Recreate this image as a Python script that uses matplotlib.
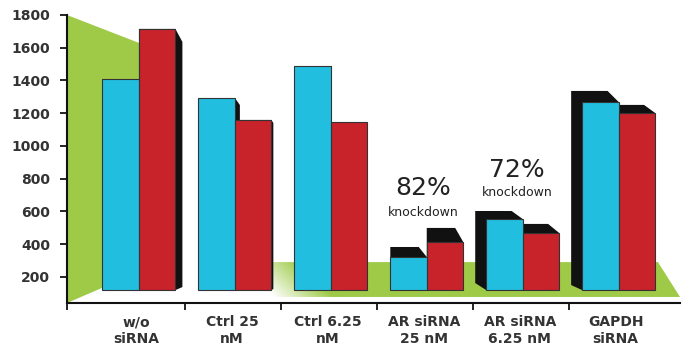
import numpy as np
import matplotlib
matplotlib.use("Agg")
import matplotlib.pyplot as plt
from matplotlib.patches import Polygon

# ---- data ----
categories = ["w/o\nsiRNA", "Ctrl 25\nnM", "Ctrl 6.25\nnM",
              "AR siRNA\n25 nM", "AR siRNA\n6.25 nM", "GAPDH\nsiRNA"]
blue_values = [1409, 1293, 1489, 322, 554, 1269]
red_values = [1715, 1159, 1147, 414, 469, 1202]
y_ticks = [200, 400, 600, 800, 1000, 1200, 1400, 1600, 1800]
pct_groups = [3, 4]
pct_labels = ["82%", "72%"]
pct_sub = ["knockdown", "knockdown"]

# ---- style ----
BLUE = "#22bee0"
RED = "#c8222a"
GREEN = "#9eca48"
DARK = "#111111"
base = 120
bar_w = 0.38
# pseudo-3D depth offsets in pixels: (dx_left, dx_right, dy_top, dy_bottom)
blue_depth = [(7, 7, 13, -3), (5, 5, 7, -2), (1, 1, 0, 0),
              (0, -8, -10, -4), (-11, -11, -8, -7), (-11, -11, -11, -5)]
red_depth = [(7, 7, 13, -3), (2, 2, 3, -1), (0, 0, 0, 0),
             (0, -8, -14, -4), (-11, -11, -9, -7), (-11, -11, -8, -5)]

fig = plt.figure(figsize=(6.82, 3.48), dpi=100)
ax = fig.add_axes([67 / 682, 45 / 348, 613 / 682, 288 / 348])
xlim = (-0.75, 5.64)
ylim = (41, 1800)
ax.set_xlim(*xlim)
ax.set_ylim(*ylim)

# px -> data unit scales
ppx_x = 613 / (xlim[1] - xlim[0])
ppx_y = 288 / (ylim[1] - ylim[0])

# ---- wall and floor ----
wall = Polygon([(0, 1), (0.155, 0.872), (0.155, 0.142), (0, 0)],
               closed=True, transform=ax.transAxes, facecolor=GREEN,
               edgecolor="none", zorder=0.5)
ax.add_patch(wall)
floor = Polygon([(0, 0.021), (0.155, 0.142), (0.964, 0.142), (1.0, 0.021)],
                closed=True, transform=ax.transAxes, facecolor="none",
                edgecolor="none", zorder=0.4)
ax.add_patch(floor)
nu, nv = 400, 60
ext_top = 0.16
u = np.linspace(0, 1, nu)[None, :]
v = np.linspace(ext_top, 0, nv)[:, None]
px = 67 + 613 * u
t = np.clip((px - 255) / 60 + (v - 0.021) / 0.121 * 0.6 - 0.3, 0, 1)
g = np.array(matplotlib.colors.to_rgb(GREEN))
img = (1 - t)[..., None] * np.ones(3) + t[..., None] * g
im = ax.imshow(img, extent=[0, 1, 0, ext_top], transform=ax.transAxes,
               aspect="auto", zorder=0.45, interpolation="bilinear")
im.set_clip_path(floor)
ax.set_xlim(*xlim)
ax.set_ylim(*ylim)


def hull(points):
    pts = sorted(set(points))
    def cross(o, a, b):
        return (a[0] - o[0]) * (b[1] - o[1]) - (a[1] - o[1]) * (b[0] - o[0])
    lower, upper = [], []
    for p in pts:
        while len(lower) >= 2 and cross(lower[-2], lower[-1], p) <= 0:
            lower.pop()
        lower.append(p)
    for p in reversed(pts):
        while len(upper) >= 2 and cross(upper[-2], upper[-1], p) <= 0:
            upper.pop()
        upper.append(p)
    return lower[:-1] + upper[:-1]


x = np.arange(len(categories))
for vals, depth, off in [(blue_values, blue_depth, -bar_w / 2),
                         (red_values, red_depth, bar_w / 2)]:
    for i, val in enumerate(vals):
        dxl, dxr, dyt, dyb = depth[i]
        x0 = x[i] + off - bar_w / 2
        x1 = x[i] + off + bar_w / 2
        front = [(x0, base), (x1, base), (x1, val), (x0, val)]
        back = [(x0 + dxl / ppx_x, base - dyb / ppx_y),
                (x1 + dxr / ppx_x, base - dyb / ppx_y),
                (x1 + dxr / ppx_x, val - dyt / ppx_y),
                (x0 + dxl / ppx_x, val - dyt / ppx_y)]
        ax.add_patch(Polygon(hull(front + back), closed=True,
                             facecolor=DARK, edgecolor="none", zorder=2))

ax.bar(x - bar_w / 2, np.array(blue_values) - base, bottom=base, width=bar_w,
       color=BLUE, edgecolor="#333333", linewidth=0.8, zorder=3)
ax.bar(x + bar_w / 2, np.array(red_values) - base, bottom=base, width=bar_w,
       color=RED, edgecolor="#333333", linewidth=0.8, zorder=3)

# ---- annotations ----
pct_pos = [(2.96, 744, 591), (3.94, 853, 713)]
for (tx, ty, sy), lab, sub in zip(pct_pos, pct_labels, pct_sub):
    ax.text(tx, ty, lab, ha="center", va="center", fontsize=18,
            color="#222222", zorder=5)
    ax.text(tx, sy, sub, ha="center", va="center", fontsize=9,
            color="#222222", zorder=5)

# ---- axes styling ----
for s in ["top", "right"]:
    ax.spines[s].set_visible(False)
for s in ["left", "bottom"]:
    ax.spines[s].set_linewidth(1.5)
    ax.spines[s].set_color("#111111")
    ax.spines[s].set_zorder(6)

ax.set_yticks(y_ticks)
ax.set_yticklabels([str(v) for v in y_ticks])
ax.tick_params(axis="y", direction="out", length=5, width=1.2, pad=7,
               labelsize=10, labelcolor="#333333")
for lab in ax.get_yticklabels():
    lab.set_fontweight("bold")

ax.set_xticks(x - 0.03)
ax.set_xticklabels(categories, fontsize=10, fontweight="bold",
                   color="#333333", linespacing=1.25)
ax.tick_params(axis="x", which="major", length=0, pad=9)
ax.set_xticks([xlim[0]] + list(x[:-1] + 0.48), minor=True)
ax.tick_params(axis="x", which="minor", direction="out", length=5, width=1.2)

fig.savefig("out.png", dpi=100)
